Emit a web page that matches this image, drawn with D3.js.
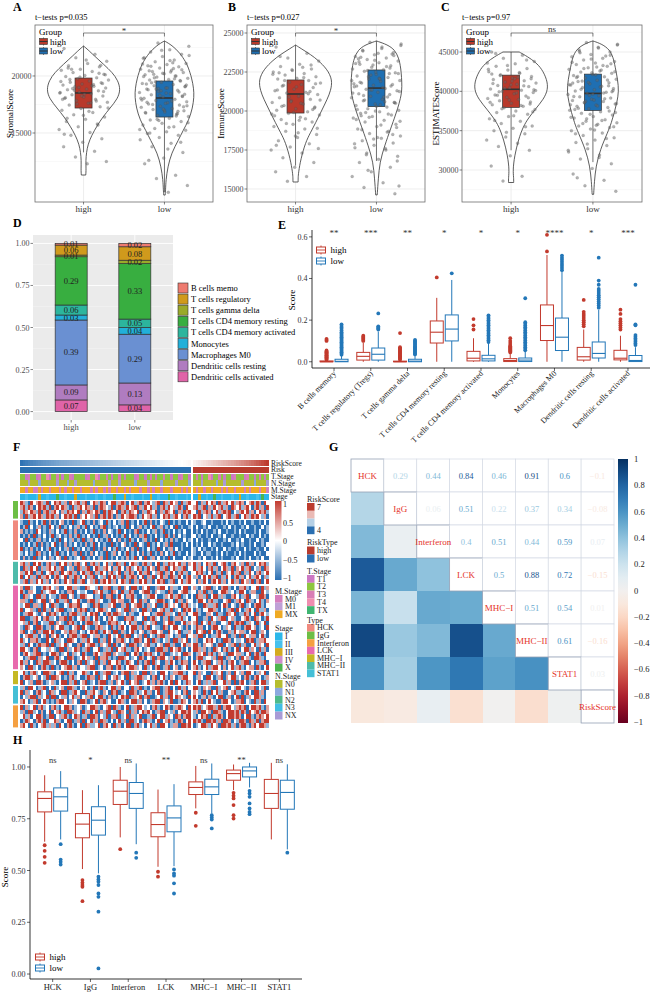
<!doctype html>
<html lang="en">
<head>
<meta charset="utf-8">
<title>Immune infiltration panels</title>
<script src="https://cdn.jsdelivr.net/npm/d3@7/dist/d3.min.js"></script>
<style>
  body { margin: 0; background: #fff; }
  svg { display: block; font-family: "Liberation Serif", "DejaVu Serif", serif; }
</style>
</head>
<body>
<div id="viz"></div>
<script>
// ---------- DATA ----------
var groups = ["high", "low"];

// A-C: ESTIMATE scores (jittered samples)
var stromalHigh = [22400, 21900, 21600, 21300, 21100, 20900, 20800, 20600, 20500, 20400,
  20300, 20150, 20050, 19950, 19850, 19750, 19650, 19550, 19450, 19400,
  19300, 19200, 19100, 19050, 18950, 18850, 18800, 18700, 18600, 18550,
  18450, 18350, 18250, 18150, 18050, 17950, 17850, 17700, 17600, 17450,
  17300, 17150, 17000, 16800, 16600, 16400, 16200, 16000, 15800, 15550,
  15300, 15050, 14800, 14500, 14200, 13800, 13400, 12900, 12500, 12300,
  20700, 20250, 19900, 19520, 19150, 18900, 18650, 18400, 18100, 17800,
  17550, 17200, 16900, 19700, 20950, 18250, 17950, 19250, 18750, 20100,
  21400, 16300, 15700, 19000, 18500, 17650, 20600, 19350, 16550, 14900];
var stromalLow = [22900, 22600, 22300, 22100, 21900, 21700, 21550, 21400, 21250, 21100,
  21000, 20900, 20800, 20700, 20600, 20500, 20400, 20300, 20200, 20100,
  20000, 19900, 19800, 19700, 19650, 19550, 19450, 19350, 19250, 19150,
  19050, 18950, 18850, 18750, 18650, 18550, 18450, 18350, 18250, 18150,
  18050, 17950, 17850, 17750, 17650, 17550, 17450, 17350, 17250, 17150,
  17050, 16950, 16850, 16750, 16650, 16550, 16450, 16300, 16150, 16000,
  15850, 15700, 15550, 15400, 15250, 15100, 14950, 14800, 14600, 14400,
  14100, 13800, 13300, 12800, 12300, 11300, 11000, 10400, 9800, 20450,
  19600, 18700, 17900, 21150, 20150, 18400, 17600, 19300, 16700, 18900,
  21800, 21350, 20850, 20550, 20250, 19950, 19750, 19500, 19200, 18950,
  18800, 18600, 18300, 18050, 17800, 17500, 17300, 17000, 16800, 16500,
  16200, 15900, 15500, 15000, 14200, 22250, 21050, 20650, 19850, 19100,
  18500, 17700, 16900, 16100, 15300, 20350, 19400, 18200, 17100, 21600,
  20000, 18850, 17400, 13600, 12600];
var immuneHigh = [24100, 23700, 23400, 23200, 23000, 22850, 22700, 22600, 22500, 22400,
  22300, 22200, 22100, 22050, 21950, 21850, 21800, 21700, 21600, 21500,
  21400, 21300, 21200, 21150, 21050, 20950, 20850, 20750, 20650, 20550,
  20450, 20350, 20250, 20150, 20050, 19950, 19850, 19750, 19600, 19450,
  19300, 19150, 19000, 18850, 18700, 18500, 18300, 18100, 17900, 17700,
  17500, 17300, 17000, 16700, 16400, 16100, 15800, 15500, 17600, 19400,
  23500, 22950, 22650, 22350, 22150, 21950, 21750, 21550, 21350, 21100,
  20900, 20700, 20500, 20300, 20100, 19900, 19700, 19500, 19200, 18900,
  18600, 22450, 21250, 20600, 19800, 22800, 21650, 20200, 18400, 17800];
var immuneLow = [24400, 24200, 24000, 23900, 23750, 23600, 23500, 23400, 23300, 23200,
  23100, 23000, 22900, 22800, 22700, 22650, 22550, 22450, 22350, 22250,
  22150, 22050, 21950, 21900, 21800, 21700, 21650, 21550, 21450, 21400,
  21300, 21200, 21100, 21050, 20950, 20850, 20750, 20650, 20550, 20450,
  20350, 20250, 20150, 20050, 19950, 19850, 19750, 19650, 19550, 19400,
  19300, 19150, 19000, 18850, 18700, 18550, 18400, 18250, 18100, 17950,
  17800, 17650, 17500, 17300, 17100, 16900, 16700, 16400, 16100, 15800,
  15400, 15100, 14700, 22500, 21600, 20900, 22200, 21250, 20400, 19700,
  23650, 22950, 21750, 20600, 19900, 18950, 18300, 23350, 22400, 21350,
  24300, 24100, 23850, 23550, 23250, 23050, 22850, 22600, 22400, 22100,
  21850, 21600, 21350, 21150, 20900, 20700, 20500, 20300, 20100, 19800,
  19600, 19350, 19100, 18800, 18500, 18200, 17900, 17600, 17200, 16800,
  23700, 23150, 22750, 22300, 21950, 21500, 21000, 20550, 20000, 19450,
  18650, 16200, 15200, 22050, 23450];
var estimateHigh = [45000, 44600, 44200, 43800, 43500, 43200, 42900, 42700, 42500, 42300,
  42100, 41900, 41700, 41500, 41350, 41200, 41050, 40900, 40750, 40600,
  40450, 40300, 40150, 40000, 39850, 39700, 39550, 39400, 39250, 39100,
  38950, 38800, 38650, 38500, 38300, 38100, 37900, 37700, 37500, 37300,
  37100, 36800, 36500, 36200, 35900, 35600, 35300, 35000, 34600, 34200,
  33800, 33400, 33000, 32500, 31800, 30500, 29200, 28600, 40200, 41600,
  44800, 44000, 43300, 42800, 42400, 42000, 41600, 41300, 41000, 40700,
  40400, 40100, 39800, 39500, 39200, 38900, 38600, 38200, 37800, 37400,
  36900, 36300, 35500, 34800, 43600, 41800, 39950, 38400, 40850, 42200];
var estimateLow = [46200, 45900, 45600, 45300, 45000, 44700, 44400, 44200, 44000, 43800,
  43600, 43400, 43200, 43000, 42800, 42600, 42450, 42300, 42150, 42000,
  41850, 41700, 41550, 41400, 41250, 41100, 40950, 40800, 40650, 40500,
  40350, 40200, 40050, 39900, 39750, 39600, 39450, 39300, 39150, 39000,
  38850, 38700, 38550, 38400, 38250, 38100, 37950, 37800, 37600, 37400,
  37200, 37000, 36800, 36600, 36400, 36200, 36000, 35800, 35600, 35400,
  35200, 35000, 34700, 34400, 34100, 33800, 33500, 33100, 32700, 32300,
  31900, 31400, 30800, 30200, 29500, 28700, 28000, 27300, 43100, 41900,
  40700, 39500, 38300, 42700, 41300, 40100, 38900, 37700, 44500, 36500,
  46000, 45500, 45100, 44600, 44100, 43700, 43300, 42900, 42500, 42100,
  41750, 41450, 41150, 40850, 40550, 40250, 39950, 39650, 39350, 39050,
  38750, 38450, 38150, 37850, 37500, 37100, 36700, 36300, 35900, 35500,
  35100, 34600, 34000, 33300, 32500, 31600, 44900, 43500, 42350, 41050,
  39800, 38600, 37300, 35700, 29000];

// box stats: [lower whisker, q1, median, q3, upper whisker]
var stromalHighBox = [13300, 17190, 18510, 19820, 22630];
var stromalLowBox = [9800, 16400, 18070, 19560, 23070];
var immuneHighBox = [16500, 19870, 21090, 21990, 24230];
var immuneLowBox = [16800, 20280, 21470, 22630, 24490];
var estimateHighBox = [32500, 37960, 40260, 42060, 45000];
var estimateLowBox = [31000, 37570, 39740, 42190, 46410];

// violin outlines: [score, relative density]
var stromalHighViolin = [[22630,0],[22300,0.12],[21800,0.28],[21000,0.55],[20300,0.78],[19600,0.93],[18800,1],[18000,0.92],[17200,0.72],[16400,0.52],[15600,0.36],[14800,0.22],[14000,0.12],[13300,0.08],[12600,0.06],[11800,0.07],[11316,0.06]];
var stromalLowViolin = [[23070,0],[22700,0.2],[22020,0.42],[21200,0.58],[20790,0.64],[19800,0.74],[18900,0.79],[18160,0.8],[17200,0.76],[16140,0.66],[15200,0.5],[14390,0.38],[13250,0.19],[12020,0.09],[10880,0.04],[10000,0.03],[9560,0.02]];
var immuneHighViolin = [[24230,0],[24000,0.15],[23600,0.42],[23270,0.6],[22700,0.85],[21990,1],[21300,0.95],[20770,0.86],[20000,0.7],[19230,0.54],[18600,0.4],[17990,0.27],[16910,0.14],[16060,0.08],[15700,0.07],[15450,0.07]];
var immuneLowViolin = [[24490,0],[24250,0.3],[23910,0.5],[23400,0.6],[22820,0.66],[21470,0.7],[20800,0.65],[20130,0.57],[19500,0.48],[18850,0.38],[17760,0.22],[16730,0.09],[15640,0.05],[14620,0.02]];
var estimateHighViolin = [[45000,0.22],[44400,0.45],[43700,0.66],[42860,0.83],[41500,0.97],[40250,1],[39000,0.88],[37710,0.65],[36600,0.47],[35550,0.33],[33890,0.2],[31730,0.09],[30000,0.05],[29000,0.07],[28410,0.07]];
var estimateLowViolin = [[46410,0],[46000,0.25],[45300,0.45],[44300,0.55],[43150,0.6],[41500,0.67],[40000,0.7],[38600,0.65],[37320,0.58],[36000,0.5],[34780,0.4],[32620,0.2],[30460,0.08],[28500,0.04],[26900,0.02]];

var pLabels = ["t\u2212tests p=0.035", "t\u2212tests p=0.027", "t\u2212tests p=0.97"];
var scoreSig = ["*", "*", "ns"];

// D: mean fractions per risk group (top to bottom in stack)
var dCells = ["B cells memo", "T cells regulatory", "T cells gamma delta", "T cells CD4 memory resting",
  "T cells CD4 memory activated", "Monocytes", "Macrophages M0", "Dendritic cells resting", "Dendritic cells activated"];
var dHigh = [0.01, 0.06, 0.01, 0.29, 0.06, 0.03, 0.39, 0.09, 0.07];
var dLow = [0.02, 0.08, 0.02, 0.33, 0.05, 0.04, 0.29, 0.13, 0.04];

// E: immune cell scores
var cellTypes = ["B cells memory", "T cells regulatory (Tregs)", "T cells gamma delta", "T cells CD4 memory resting",
  "T cells CD4 memory activated", "Monocytes", "Macrophages M0", "Dendritic cells resting", "Dendritic cells activated"];
var cellSig = ["**", "***", "**", "*", "*", "*", "****", "*", "***"];
var cellHighBox = [
  [0, 0, 0, 0.004, 0.008],
  [0, 0.008, 0.026, 0.045, 0.092],
  [0, 0, 0, 0.003, 0.007],
  [0, 0.09, 0.142, 0.196, 0.307],
  [0, 0.004, 0.017, 0.05, 0.113],
  [0, 0.001, 0.006, 0.015, 0.037],
  [0, 0.102, 0.174, 0.273, 0.513],
  [0, 0.008, 0.024, 0.069, 0.155],
  [0, 0.009, 0.017, 0.055, 0.125]
];
var cellLowBox = [
  [0, 0, 0.002, 0.012, 0.03],
  [0, 0.008, 0.036, 0.066, 0.145],
  [0, 0, 0.003, 0.012, 0.03],
  [0, 0.1, 0.157, 0.225, 0.393],
  [0, 0.004, 0.014, 0.031, 0.09],
  [0, 0.001, 0.008, 0.018, 0.05],
  [0, 0.054, 0.118, 0.21, 0.433],
  [0, 0.018, 0.04, 0.095, 0.25],
  [0, 0.001, 0.006, 0.03, 0.07]
];
var cellHighOut = [
  [0.01, 0.013, 0.016, 0.019, 0.022, 0.025, 0.028, 0.031, 0.034, 0.037, 0.04, 0.043, 0.046, 0.05, 0.054, 0.1, 0.105, 0.11],
  [0.1, 0.105, 0.11, 0.115, 0.12, 0.125],
  [0.01, 0.014, 0.018, 0.022, 0.026, 0.03, 0.034, 0.038, 0.042, 0.046, 0.05, 0.055, 0.06, 0.065, 0.07, 0.138],
  [0.405],
  [0.155, 0.175, 0.205],
  [0.045, 0.05, 0.055, 0.06, 0.065, 0.07, 0.075, 0.08, 0.09, 0.1, 0.113],
  [0.53, 0.61],
  [0.17, 0.18, 0.19, 0.2, 0.21, 0.22, 0.23, 0.24, 0.297],
  [0.155, 0.165, 0.175, 0.185, 0.195, 0.205, 0.23, 0.25]
];
var cellLowOut = [
  [0.034, 0.04, 0.046, 0.052, 0.058, 0.064, 0.07, 0.076, 0.082, 0.088, 0.094, 0.1, 0.106, 0.112, 0.118, 0.124, 0.13, 0.136, 0.142, 0.15, 0.158, 0.165, 0.172, 0.18],
  [0.155, 0.16, 0.165, 0.17, 0.232],
  [0.035, 0.04, 0.045, 0.05, 0.055, 0.06, 0.065, 0.07, 0.075, 0.08, 0.085, 0.09, 0.095, 0.1, 0.105],
  [0.425],
  [0.095, 0.103, 0.111, 0.119, 0.127, 0.135, 0.143, 0.151, 0.159, 0.167, 0.175, 0.183, 0.191, 0.199, 0.207, 0.215, 0.223],
  [0.055, 0.062, 0.07, 0.078, 0.086, 0.094, 0.102, 0.11, 0.118, 0.126, 0.134, 0.142, 0.15, 0.158, 0.166, 0.174, 0.182, 0.19, 0.305],
  [0.44, 0.45, 0.46, 0.47, 0.48, 0.49, 0.5, 0.51],
  [0.26, 0.27, 0.28, 0.29, 0.3, 0.31, 0.32, 0.33, 0.34, 0.35, 0.37, 0.39, 0.5],
  [0.08, 0.088, 0.096, 0.104, 0.112, 0.12, 0.128, 0.175, 0.18, 0.37]
];

// F: heatmap (levels 0..4 = -1..1), one string per gene, grouped by type
var heatTypes = ["IgG", "HCK", "MHC\u2212II", "LCK", "MHC\u2212I", "STAT1", "Interferon"];
var heatIgG = [
  "431042343140 243413042341 340243143024 413430241340 342134043142 304134240314 243041342413 430234143042",
  "341430243414 034243104134 243140343214 034314234031 424130341423 143042341340 314234130432 413420341304",
  "143243140341 342031434240 314324304143 240341432403 143240314324 031434204134 302413434021 342413024341",
  "304134243143 413024341403 242314034143 031423443014 234130243413 420341434023 141340234134 024314342130"];
var heatHCK = [
  "100410201403 010230104012 401030120410 201304010201 403010210401 010020100120 010001020100 102001001020",
  "014020130104 201401020130 140201034010 120104020130 102401301020 401001020010 200100102010 010200100201",
  "301010420103 102014010301 020140103021 014020103401 020130140102 010200010201 001020010010 201000102001",
  "010304010201 401201030140 102010401302 010140201031 401020104103 020100201001 020010200100 100201002010",
  "204010130102 010402013010 401302010140 203010410201 301040201030 100201020100 100200102001 020010020100",
  "010201403010 240103010201 030140201004 010230104021 040102013040 001020010200 201001000102 010010200102",
  "401030102014 010201304010 201040103020 140102030401 020104020130 201000102010 010200201001 002010010020",
  "102010430102 014010201304 010302010401 302014010203 014010302014 010020100201 100102010010 201000201002",
  "030104010203 102304010120 401020130401 020103014020 401302010402 000201001020 010201000102 001020010200"];
var heatMHCII = [
  "341304241034 130424130341 240341302413 043140243103 413024031434 241303413024 314023410342 130413024341",
  "043142403134 241340213043 134024313420 314203412430 142304134024 313402413420 341302431403 241340213043",
  "314240314023 413042341302 413403142034 124031430241 340213403142 034130243410 240314032413 403142034124",
  "402413041342 034124031430 241340213042 413041343024 031402413043 142034130242 413403142034 130241342031",
  "134031424130 243014230413 402314034241 302431403142 413024340134 024134203142 034241302413 042314034024"];
var heatLCK = [
  "304412001434 213002441310 043221403340 114032044103 240013442031 102440310234 401203441020 334102240413",
  "410332004123 442010334021 120043241104 320411430023 441032110430 023441203140 130024431201 442013300421",
  "043120441302 110344023014 432201140334 014203341002 134420013241 340120043314 024413100342 013402214430",
  "331040124403 204113402241 003441320014 423300142041 302214430120 413032014420 341100234013 420431024103",
  "124403310420 431002143340 221043401132 400314023441 031240034123 204341120043 113402430210 340120344102",
  "402231040413 023440112034 340102443120 032144031204 413002341140 120434031022 443102013404 201342041130",
  "013442103204 341201034413 102434020341 443120310024 220134403312 041302441003 320411043240 114302403421",
  "440013420341 120334041023 413024102034 210043341220 403412031401 334120240013 042134402310 023410432014",
  "231403402114 403210434102 034413200143 341202413004 121340032443 002413340421 413002214034 340132041240",
  "104320443013 032441102340 421003431204 103420244130 340211043024 421030143302 034420132041 103442301204",
  "340214031442 410023143302 102434014230 440310241023 013442300421 240113042340 420341003142 331024401320",
  "023441302140 324102034413 440213301042 124034402130 402103441320 130042314402 011342240130 404213302410",
  "412033410042 043120443201 314200413042 033412014430 240431021304 413240130024 342010443021 120434013342",
  "130420143340 401324120034 023441032140 410230443012 341102304413 002413441032 230144021340 413002413204",
  "442103402213 210440312430 134022401314 042341103420 120034413042 341020443130 104320341024 024413204130",
  "034213440102 443012403120 410034213440 321104024301 434120340012 120443013240 341032104423 310240341042",
  "201344031240 034120443012 423104033410 104432012043 021403442130 430120034412 213044031203 042310443102",
  "413020431443 120344102034 041230413042 243014320410 340412003142 014330420134 402134103420 134402013340",
  "320441203410 401023441302 213440120334 034102443120 412034013402 301240341024 134420302413 410233041024"];
var heatMHCI = [
  "241034120443 102340413022 431024013440 120344031204 403120442013 344102403120 041324013042 130442013240",
  "034412302140 443201034120 014330412402 341204013443 120340241032 013442013204 420134032441 203410342013",
  "402130443012 310244031402 340120344013 032410423401 241303410240 420143024013 134022413040 342013402441"];
var heatSTAT1 = [
  "130442013402 041230443102 320140341024 413022041340 102344013402 041302441032 300412340214 421033402140",
  "403120341204 312044013420 041342103204 340120443012 413024013442 120340321041 042413002341 103420441302",
  "021344031240 440213024130 213402441030 102434013240 340012413042 432104420130 310244013024 040132443102",
  "342013402410 103442013204 430124034120 024310244130 201344032140 014320341402 421003442013 340210413042"];
var heatInterferon = [
  "403124034120 341024430123 012443102340 431024013442 120341024301 343204434123 443140344213 434024434103",
  "130441203024 023410443120 413024031442 104320413024 342013440213 024434130442 304431024434 143042341443",
  "241302443014 402134102430 130443021403 340124031240 013402441320 430344102434 041343024434 302441034324",
  "014320341402 243102440130 402413043102 024130441203 431024023410 143024434104 434130443021 443043140344",
  "342041023413 130420341024 043112403420 413024403412 024130442013 304434012443 142304434130 344103424431"];

// F: column annotations (66 low-risk then 30 high-risk samples)
var lowCount = 66;
var riskScores = [4.00, 4.06, 4.11, 4.16, 4.20, 4.24, 4.28, 4.32, 4.35, 4.38, 4.41, 4.44, 4.47, 4.50, 4.53, 4.56,
  4.58, 4.60, 4.62, 4.64, 4.66, 4.68, 4.70, 4.72, 4.74, 4.76, 4.78, 4.80, 4.82, 4.84, 4.86, 4.88, 4.90, 4.92,
  4.94, 4.96, 4.98, 5.00, 5.02, 5.04, 5.06, 5.08, 5.10, 5.12, 5.14, 5.16, 5.18, 5.20, 5.22, 5.24, 5.26, 5.28,
  5.30, 5.32, 5.34, 5.36, 5.38, 5.40, 5.42, 5.44, 5.46, 5.48, 5.50, 5.52, 5.54, 5.56,
  5.60, 5.64, 5.68, 5.72, 5.76, 5.80, 5.84, 5.88, 5.92, 5.96, 6.00, 6.04, 6.08, 6.12, 6.16, 6.20, 6.25, 6.30,
  6.35, 6.40, 6.45, 6.50, 6.56, 6.62, 6.68, 6.74, 6.80, 6.87, 6.94, 7.00];
var tStage = "221322132241 223212231222 213224122321 223212221322 123212232212 213221232122 412232122132 221322123212";
var nStage = "000X00010000 00X000100X00 0000100000X0 00X000001000 0X0000100000 X00001000X00 000100X00000 0X000010000X";
var mStage = "XX0XX00X0XX0 XXX0X0XX0XX0 XXX0X0XX0X0X X0XX0X0XXX0X X0X0XX0XXX0X XX0X0XX0XX0X X0XXX0X0XX0X XX0X0XXX0XX0";
var stageCodes = "112111231121 11X112111311 121112112111 X11131121112 113112111X11 211121113112 11X112111211 311211121X11";

var tNames = ["T1", "T2", "T3", "T4", "TX"], tKeys = "1234X";
var nNames = ["N0", "N1", "N2", "N3", "NX"], nKeys = "0123X";
var mNames = ["M0", "M1", "MX"], mKeys = "01X";
var sNames = ["I", "II", "III", "IV", "X"], sKeys = "1234X";
var typeNames = ["HCK", "IgG", "Interferon", "LCK", "MHC\u2212I", "MHC\u2212II", "STAT1"];

// G: correlation matrix
var corrNames = ["HCK", "IgG", "Interferon", "LCK", "MHC\u2212I", "MHC\u2212II", "STAT1", "RiskScore"];
var corr = [
  [1, 0.29, 0.44, 0.84, 0.46, 0.91, 0.6, -0.1],
  [0.29, 1, 0.06, 0.51, 0.22, 0.37, 0.34, -0.08],
  [0.44, 0.06, 1, 0.4, 0.51, 0.44, 0.59, 0.07],
  [0.84, 0.51, 0.4, 1, 0.5, 0.88, 0.72, -0.15],
  [0.46, 0.22, 0.51, 0.5, 1, 0.51, 0.54, 0.01],
  [0.91, 0.37, 0.44, 0.88, 0.51, 1, 0.61, -0.16],
  [0.6, 0.34, 0.59, 0.72, 0.54, 0.61, 1, 0.03],
  [-0.1, -0.08, 0.07, -0.15, 0.01, -0.16, 0.03, 1]
];

// H: immune function scores
var immuneSets = ["HCK", "IgG", "Interferon", "LCK", "MHC\u2212I", "MHC\u2212II", "STAT1"];
var setSig = ["ns", "*", "ns", "**", "ns", "**", "ns"];
var setHighBox = [
  [0.639, 0.783, 0.848, 0.880, 0.960],
  [0.507, 0.658, 0.724, 0.775, 0.888],
  [0.660, 0.819, 0.883, 0.936, 1.000],
  [0.518, 0.663, 0.722, 0.779, 0.891],
  [0.800, 0.867, 0.901, 0.928, 1.005],
  [0.888, 0.936, 0.968, 0.985, 1.012],
  [0.650, 0.800, 0.872, 0.940, 1.020]
];
var setLowBox = [
  [0.650, 0.787, 0.856, 0.899, 0.980],
  [0.486, 0.671, 0.743, 0.808, 0.912],
  [0.627, 0.800, 0.872, 0.925, 1.017],
  [0.521, 0.687, 0.754, 0.812, 0.917],
  [0.775, 0.867, 0.904, 0.941, 1.017],
  [0.901, 0.952, 0.981, 1.000, 1.020],
  [0.602, 0.796, 0.877, 0.936, 1.013]
];
var setHighOut = [
  [0.622, 0.595, 0.566, 0.537],
  [0.454, 0.441, 0.430, 0.421, 0.352],
  [0.603],
  [0.494, 0.470],
  [0.779, 0.716],
  [0.875, 0.861, 0.848, 0.816, 0.767, 0.751],
  []
];
var setLowOut = [
  [0.627, 0.553, 0.542, 0.529],
  [0.470, 0.457, 0.446, 0.430, 0.389, 0.373, 0.301, 0.027],
  [0.586, 0.561],
  [0.505, 0.486, 0.475, 0.438, 0.389],
  [0.767, 0.756, 0.746, 0.703],
  [0.885, 0.872, 0.856, 0.824, 0.800, 0.783, 0.772],
  [0.586]
];

// ---------- COLOURS ----------
var fillHigh = "#B8392B", fillLow = "#1F6FB2";
var lineHigh = "#C23A2D", lineLow = "#2377B8";
var dColors = ["#EE7B70", "#D09A1C", "#9AAA2A", "#38AE40", "#2CB59D", "#22B0D9", "#6A90D2", "#B07CC0", "#E064A8"];
var tColors = ["#CC79C3", "#8DC63F", "#D97DB5", "#F08DB0", "#3FB571"];
var nColors = ["#B5BD2E", "#8CA8DF", "#4DB98A", "#42BEE3", "#A99BD6"];
var mColors = ["#D57EBE", "#BFA0D6", "#EFAA22"];
var sColors = ["#2BB7E9", "#46C1EE", "#D4AA1E", "#CE8DCB", "#4DB54E"];
var typeColors = ["#F08A7E", "#6DBE45", "#F5A041", "#E86AAE", "#C5B824", "#4EBBAA", "#45BFD6"];
var heatColor = d3.scaleLinear().domain([-1, 0, 1]).range(["#2B6FB2", "#FFFFFF", "#C23B30"]);
var riskColor = d3.scaleLinear().domain([4, 5.5, 7]).range(["#2F72B4", "#FFFFFF", "#BD3A2E"]);
var corrColor = function(v) { return d3.interpolateRdBu((v + 1) / 2); };

// ---------- DRAWING AREA ----------
var W = 652, H = 992;
var svg = d3.select("#viz").append("svg").attr("width", W).attr("height", H);
svg.append("rect").attr("width", W).attr("height", H).attr("fill", "#fff");
var defs = svg.append("defs");

function txt(x, y, t, size, opts) {
  opts = opts || {};
  return svg.append("text").attr("x", x).attr("y", y).text(t)
    .attr("font-size", size).attr("fill", opts.fill || "#000")
    .attr("text-anchor", opts.anchor || "start")
    .attr("font-weight", opts.weight || "normal");
}
function panelLetter(x, y, t) { txt(x, y, t, 12, {weight: "bold"}); }

function jitter(i, seed) { return ((i * 0.6180339887 + seed) % 1) - 0.5; }

// ---------- A-C VIOLIN PANELS ----------
function violinPanel(p) {
  var g = svg.append("g");
  var top = 25, bottom = 202;
  var x = d3.scalePoint().domain(groups).range([p.left, p.right]).padding(0.6);
  var y = d3.scaleLinear().domain(p.domain).range([bottom, top]);

  g.selectAll(".mn").data(p.minor).enter().append("line")
    .attr("x1", p.left).attr("x2", p.right).attr("y1", y).attr("y2", y)
    .attr("stroke", "#F2F2F2").attr("stroke-width", 0.5);
  g.selectAll(".mj").data(p.ticks).enter().append("line")
    .attr("x1", p.left).attr("x2", p.right).attr("y1", y).attr("y2", y)
    .attr("stroke", "#E6E6E6").attr("stroke-width", 0.7);
  g.selectAll(".vg").data(groups).enter().append("line")
    .attr("x1", x).attr("x2", x).attr("y1", top).attr("y2", bottom)
    .attr("stroke", "#E6E6E6").attr("stroke-width", 0.7);

  var area = d3.area().curve(d3.curveBasis).y(function(d) { return y(d[0]); });
  groups.forEach(function(gr, i) {
    var cx = x(gr);
    g.append("path").datum(p.violins[i])
      .attr("d", area.x0(function(d) { return cx - d[1] * 37; }).x1(function(d) { return cx + d[1] * 37; }))
      .attr("fill", "#fff").attr("stroke", "#333").attr("stroke-width", 0.8);
  });
  groups.forEach(function(gr, i) {
    var cx = x(gr), s = p.boxes[i];
    g.append("line").attr("x1", cx).attr("x2", cx).attr("y1", y(s[0])).attr("y2", y(s[4]))
      .attr("stroke", "#333").attr("stroke-width", 0.7);
    g.append("rect").attr("x", cx - 8.5).attr("width", 17)
      .attr("y", y(s[3])).attr("height", y(s[1]) - y(s[3]))
      .attr("fill", i ? fillLow : fillHigh).attr("stroke", "#333").attr("stroke-width", 0.7);
    g.append("line").attr("x1", cx - 8.5).attr("x2", cx + 8.5).attr("y1", y(s[2])).attr("y2", y(s[2]))
      .attr("stroke", "#333").attr("stroke-width", 1.6);
  });
  groups.forEach(function(gr, i) {
    var cx = x(gr);
    g.selectAll(".pt" + i).data(p.points[i]).enter().append("circle")
      .attr("cx", function(d, j) { return cx + jitter(j, i ? 0.37 : 0.11) * 50; })
      .attr("cy", y).attr("r", 1.5)
      .attr("fill", "#666").attr("fill-opacity", 0.5)
      .attr("stroke", "#333").attr("stroke-opacity", 0.35).attr("stroke-width", 0.3);
  });

  g.append("rect").attr("x", p.left).attr("y", top).attr("width", p.right - p.left).attr("height", bottom - top)
    .attr("fill", "none").attr("stroke", "#6E6E6E").attr("stroke-width", 0.8);

  p.ticks.forEach(function(t) {
    if (y(t) < top || y(t) > bottom) return;
    g.append("line").attr("x1", p.left - 2.5).attr("x2", p.left).attr("y1", y(t)).attr("y2", y(t)).attr("stroke", "#333").attr("stroke-width", 0.6);
    txt(p.left - 3.5, y(t) + 3, t, 8, {anchor: "end", fill: "#4D4D4D"});
  });
  groups.forEach(function(gr) {
    g.append("line").attr("x1", x(gr)).attr("x2", x(gr)).attr("y1", bottom).attr("y2", bottom + 2.5).attr("stroke", "#333").attr("stroke-width", 0.6);
    txt(x(gr), 212, gr, 9, {anchor: "middle", fill: "#333"});
  });
  svg.append("text").attr("transform", "translate(" + p.titleX + "," + ((top + bottom) / 2) + ") rotate(-90)")
    .attr("text-anchor", "middle").attr("font-size", 9).text(p.title);
  txt(p.left, 20, p.pLabel, 8.5);

  // significance bracket
  var xa = x("high"), xb = x("low");
  g.append("path").attr("d", "M" + xa + ",36.5V33H" + xb + "V36.5")
    .attr("fill", "none").attr("stroke", "#333").attr("stroke-width", 0.6);
  txt((xa + xb) / 2, p.sig === "ns" ? 31.5 : 34, p.sig, 9, {anchor: "middle", fill: "#333"});

  // legend
  var lx = p.left + 4;
  txt(lx, 35, "Group", 9);
  [fillHigh, fillLow].forEach(function(c, i) {
    var ky = 38.5 + i * 9.5;
    g.append("line").attr("x1", lx + 4.5).attr("x2", lx + 4.5).attr("y1", ky - 1).attr("y2", ky + 7).attr("stroke", "#333").attr("stroke-width", 0.6);
    g.append("rect").attr("x", lx + 0.5).attr("y", ky).attr("width", 8).attr("height", 6)
      .attr("fill", c).attr("stroke", "#333").attr("stroke-width", 0.6);
    g.append("line").attr("x1", lx + 0.5).attr("x2", lx + 8.5).attr("y1", ky + 3).attr("y2", ky + 3).attr("stroke", "#333").attr("stroke-width", 1);
    txt(lx + 11, ky + 6, groups[i], 9);
  });
}

violinPanel({left: 35, right: 213, domain: [8950, 24470], ticks: [15000, 20000], minor: [12500, 17500, 22500],
  violins: [stromalHighViolin, stromalLowViolin], boxes: [stromalHighBox, stromalLowBox], points: [stromalHigh, stromalLow],
  title: "StromalScore", titleX: 13, pLabel: pLabels[0], sig: scoreSig[0]});
violinPanel({left: 247, right: 425, domain: [14167, 25513], ticks: [15000, 17500, 20000, 22500, 25000], minor: [16250, 18750, 21250, 23750],
  violins: [immuneHighViolin, immuneLowViolin], boxes: [immuneHighBox, immuneLowBox], points: [immuneHigh, immuneLow],
  title: "ImmuneScore", titleX: 224, pLabel: pLabels[1], sig: scoreSig[1]});
violinPanel({left: 462, right: 642, domain: [25930, 48435], ticks: [30000, 35000, 40000, 45000], minor: [27500, 32500, 37500, 42500, 47500],
  violins: [estimateHighViolin, estimateLowViolin], boxes: [estimateHighBox, estimateLowBox], points: [estimateHigh, estimateLow],
  title: "ESTIMATEScore", titleX: 439, pLabel: pLabels[2], sig: scoreSig[2]});

panelLetter(13, 11, "A");
panelLetter(228, 11, "B");
panelLetter(441, 11, "C");

// ---------- D: STACKED FRACTIONS ----------
(function() {
  var g = svg.append("g");
  var x = d3.scalePoint().domain(groups).range([33, 173]).padding(0.6);
  var y = d3.scaleLinear().domain([-0.05, 1.05]).range([420, 235]);
  g.append("rect").attr("x", 33).attr("y", 235).attr("width", 140).attr("height", 185).attr("fill", "#EBEBEB");
  [0.125, 0.375, 0.625, 0.875].forEach(function(v) {
    g.append("line").attr("x1", 33).attr("x2", 173).attr("y1", y(v)).attr("y2", y(v)).attr("stroke", "#F5F5F5").attr("stroke-width", 0.5);
  });
  [0, 0.25, 0.5, 0.75, 1].forEach(function(v) {
    g.append("line").attr("x1", 33).attr("x2", 173).attr("y1", y(v)).attr("y2", y(v)).attr("stroke", "#fff").attr("stroke-width", 0.9);
    g.append("line").attr("x1", 30.5).attr("x2", 33).attr("y1", y(v)).attr("y2", y(v)).attr("stroke", "#333").attr("stroke-width", 0.6);
    txt(29.5, y(v) + 3, d3.format(".2f")(v), 8, {anchor: "end", fill: "#4D4D4D"});
  });
  groups.forEach(function(gr) {
    g.append("line").attr("x1", x(gr)).attr("x2", x(gr)).attr("y1", 235).attr("y2", 420).attr("stroke", "#fff").attr("stroke-width", 0.9);
    g.append("line").attr("x1", x(gr)).attr("x2", x(gr)).attr("y1", 420).attr("y2", 422.5).attr("stroke", "#333").attr("stroke-width", 0.6);
    txt(x(gr), 430, gr, 8.5, {anchor: "middle", fill: "#4D4D4D"});
  });
  [dHigh, dLow].forEach(function(vals, gi) {
    var total = d3.sum(vals), cum = 0, cx = x(groups[gi]);
    for (var k = vals.length - 1; k >= 0; k--) {
      var a = cum / total, b = (cum + vals[k]) / total;
      g.append("rect").attr("x", cx - 16).attr("width", 32).attr("y", y(b)).attr("height", y(a) - y(b))
        .attr("fill", dColors[k]).attr("stroke", "#333").attr("stroke-width", 0.7);
      txt(cx, (y(a) + y(b)) / 2 + 3, d3.format(".2f")(vals[k]), 8.5, {anchor: "middle", fill: "#222"});
      cum += vals[k];
    }
  });
  dCells.forEach(function(c, i) {
    var ky = 283 + i * 11.1;
    g.append("rect").attr("x", 178).attr("y", ky).attr("width", 10).attr("height", 10)
      .attr("fill", dColors[i]).attr("stroke", "#333").attr("stroke-width", 0.6);
    txt(191, ky + 8, c, 8.5);
  });
  panelLetter(13, 227, "D");
})();

// ---------- generic coloured box ----------
function drawBox(g, cx, w, s, y, col, outs) {
  g.append("line").attr("x1", cx).attr("x2", cx).attr("y1", y(s[0])).attr("y2", y(s[1])).attr("stroke", col).attr("stroke-width", 1);
  g.append("line").attr("x1", cx).attr("x2", cx).attr("y1", y(s[3])).attr("y2", y(s[4])).attr("stroke", col).attr("stroke-width", 1);
  g.append("rect").attr("x", cx - w / 2).attr("width", w).attr("y", y(s[3])).attr("height", Math.max(0.01, y(s[1]) - y(s[3])))
    .attr("fill", "#fff").attr("stroke", col).attr("stroke-width", 1);
  g.append("line").attr("x1", cx - w / 2).attr("x2", cx + w / 2).attr("y1", y(s[2])).attr("y2", y(s[2])).attr("stroke", col).attr("stroke-width", 1.1);
  g.selectAll(null).data(outs).enter().append("circle")
    .attr("cx", cx).attr("cy", y).attr("r", 1.9).attr("fill", col);
}
function boxLegend(g, x, y) {
  [lineHigh, lineLow].forEach(function(c, i) {
    var ky = y + i * 11;
    g.append("line").attr("x1", x + 4.5).attr("x2", x + 4.5).attr("y1", ky - 1.5).attr("y2", ky + 7.5).attr("stroke", c).attr("stroke-width", 0.9);
    g.append("rect").attr("x", x).attr("y", ky).attr("width", 9).attr("height", 6).attr("fill", "#fff").attr("stroke", c).attr("stroke-width", 1);
    g.append("line").attr("x1", x).attr("x2", x + 9).attr("y1", ky + 3).attr("y2", ky + 3).attr("stroke", c).attr("stroke-width", 0.9);
    txt(x + 14, ky + 6, groups[i], 9);
  });
}

// ---------- E: CELL SCORES ----------
(function() {
  var g = svg.append("g");
  var x = d3.scalePoint().domain(cellTypes).range([312, 650]).padding(0.6);
  var y = d3.scaleLinear().domain([-0.03, 0.633]).range([368, 230]);
  cellTypes.forEach(function(c, i) {
    drawBox(g, x(c) - 7.5, 13, cellHighBox[i], y, lineHigh, cellHighOut[i]);
    drawBox(g, x(c) + 7.5, 13, cellLowBox[i], y, lineLow, cellLowOut[i]);
    txt(x(c), 236, cellSig[i], 9, {anchor: "middle", fill: "#333"});
    g.append("line").attr("x1", x(c)).attr("x2", x(c)).attr("y1", 368).attr("y2", 371).attr("stroke", "#000").attr("stroke-width", 0.6);
    svg.append("text").attr("transform", "translate(" + (x(c) + 2.5) + ",374) rotate(-45)")
      .attr("text-anchor", "end").attr("font-size", 8).attr("fill", "#222").text(c);
  });
  g.append("path").attr("d", "M312,230V368H650").attr("fill", "none").attr("stroke", "#000").attr("stroke-width", 0.8);
  [0, 0.2, 0.4, 0.6].forEach(function(v) {
    g.append("line").attr("x1", 309).attr("x2", 312).attr("y1", y(v)).attr("y2", y(v)).attr("stroke", "#000").attr("stroke-width", 0.6);
    txt(307.5, y(v) + 3, d3.format(".1f")(v), 8, {anchor: "end", fill: "#333"});
  });
  svg.append("text").attr("transform", "translate(295,300) rotate(-90)").attr("text-anchor", "middle").attr("font-size", 9).text("Score");
  boxLegend(g, 316.5, 247);
  panelLetter(278, 229, "E");
})();

// ---------- F: HEATMAP ----------
(function() {
  var g = svg.append("g");
  var blocks = [heatIgG, heatHCK, heatMHCII, heatLCK, heatMHCI, heatSTAT1, heatInterferon];
  var nCols = riskScores.length;
  var xL = d3.scaleBand().domain(d3.range(lowCount)).range([20, 191]);
  var xR = d3.scaleBand().domain(d3.range(lowCount, nCols)).range([193, 269]);
  function colX(c) { return c < lowCount ? xL(c) : xR(c); }
  function colW(c) { return c < lowCount ? xL.bandwidth() : xR.bandwidth(); }

  // column annotations
  var tracks = ["RiskScore", "Risk", "T.Stage", "N.Stage", "M.Stage", "Stage"];
  var ty = d3.scaleBand().domain(tracks).range([460, 500]).paddingInner(0.08);
  function code(str, keys, cols) { str = str.replace(/ /g, ""); return function(c) { return cols[keys.indexOf(str[c])] || "#fff"; }; }
  var trackColor = {
    "RiskScore": function(c) { return riskColor(riskScores[c]); },
    "Risk": function(c) { return c < lowCount ? "#2A6FB1" : "#B83B2E"; },
    "T.Stage": code(tStage, tKeys, tColors),
    "N.Stage": code(nStage, nKeys, nColors),
    "M.Stage": code(mStage, mKeys, mColors),
    "Stage": code(stageCodes, sKeys, sColors)
  };
  tracks.forEach(function(t) {
    g.selectAll(null).data(d3.range(nCols)).enter().append("rect")
      .attr("x", colX).attr("width", function(c) { return colW(c) + 0.4; })
      .attr("y", ty(t)).attr("height", ty.bandwidth())
      .attr("fill", trackColor[t]).attr("shape-rendering", "crispEdges");
    txt(271, ty(t) + ty.bandwidth() / 2 + 2.6, t, 7.5, {fill: "#222"});
  });

  // body
  var top = 501, rowH = 4.4, gap = 1.8;
  blocks.forEach(function(rows, bi) {
    var y = d3.scaleBand().domain(d3.range(rows.length)).range([top, top + rows.length * rowH]);
    var cells = [];
    rows.forEach(function(r, ri) {
      var s = r.replace(/ /g, "");
      for (var c = 0; c < Math.min(s.length, nCols); c++) cells.push({r: ri, c: c, v: (+s[c] - 2) / 2});
    });
    g.selectAll(null).data(cells).enter().append("rect")
      .attr("x", function(d) { return colX(d.c); }).attr("width", function(d) { return colW(d.c) + 0.3; })
      .attr("y", function(d) { return y(d.r); }).attr("height", y.bandwidth() + 0.3)
      .attr("fill", function(d) { return heatColor(d.v); }).attr("shape-rendering", "crispEdges");
    g.append("rect").attr("x", 13).attr("width", 5).attr("y", top).attr("height", rows.length * rowH)
      .attr("fill", typeColors[typeNames.indexOf(heatTypes[bi])]);
    top += rows.length * rowH + gap;
  });

  // heat colour bar
  var hg = defs.append("linearGradient").attr("id", "heatGrad").attr("x1", 0).attr("y1", 0).attr("x2", 0).attr("y2", 1);
  [1, 0.5, 0, -0.5, -1].forEach(function(v, i) { hg.append("stop").attr("offset", i / 4).attr("stop-color", heatColor(v)); });
  g.append("rect").attr("x", 275).attr("y", 501).attr("width", 6.5).attr("height", 79).attr("fill", "url(#heatGrad)");
  var cb = d3.scaleLinear().domain([1, -1]).range([504, 578]);
  [1, 0.5, 0, -0.5, -1].forEach(function(v) {
    txt(283, cb(v) + 3, String(v).replace("-", "\u2212"), 8, {fill: "#222"});
  });

  function keys(x, y, title, names, cols, step, labels) {
    txt(x, y, title, 8, {fill: "#222"});
    names.forEach(function(n, i) {
      g.append("rect").attr("x", x).attr("y", y + 1.5 + i * step).attr("width", 7.5).attr("height", step)
        .attr("fill", cols[i]);
      var lab = labels ? labels[i] : n;
      if (lab) txt(x + 10, y + 1.5 + i * step + step - 1.2, lab, 8, {fill: "#222"});
    });
  }
  keys(275, 593.5, "M.Stage", mNames, mColors, 7.7);
  keys(275, 631, "Stage", sNames, sColors, 7.8);
  keys(275, 678.5, "N.Stage", nNames, nColors, 7.9);
  keys(307, 501.5, "RiskScore", ["7", "", "", "4"], ["#BC3C2E", "#EABAB5", "#B5D0E6", "#2A6FB1"], 7.8, ["7", "", "", "4"]);
  keys(307, 545, "RiskType", groups, ["#B83B2E", "#2A6FB1"], 8);
  keys(307, 573.5, "T.Stage", tNames, tColors, 7.8);
  keys(307, 622.5, "Type", typeNames, typeColors, 7.6);

  panelLetter(13, 451, "F");
})();

// ---------- G: CORRELATION ----------
(function() {
  var g = svg.append("g");
  var x = d3.scaleBand().domain(corrNames).range([351, 614]);
  var y = d3.scaleBand().domain(corrNames).range([459, 723]);
  corrNames.forEach(function(rn, i) {
    corrNames.forEach(function(cn, j) {
      if (j < i) {
        g.append("rect").attr("x", x(cn)).attr("y", y(rn)).attr("width", x.bandwidth() + 0.3).attr("height", y.bandwidth() + 0.3)
          .attr("fill", corrColor(corr[i][j])).attr("shape-rendering", "crispEdges");
      }
    });
  });
  corrNames.forEach(function(rn, i) {
    corrNames.forEach(function(cn, j) {
      var v = corr[i][j];
      var cx = x(cn) + x.bandwidth() / 2, cy = y(rn) + y.bandwidth() / 2;
      if (j > i) {
        g.append("rect").attr("x", x(cn)).attr("y", y(rn)).attr("width", x.bandwidth()).attr("height", y.bandwidth())
          .attr("fill", "#fff").attr("stroke", "#D5DBE4").attr("stroke-width", 0.7);
        txt(cx, cy + 3, String(v).replace("-", "\u2212"), 8.5, {anchor: "middle", fill: corrColor(v)});
      } else if (j === i) {
        g.append("rect").attr("x", x(cn)).attr("y", y(rn)).attr("width", x.bandwidth()).attr("height", y.bandwidth())
          .attr("fill", "#fff").attr("stroke", "#95A0B5").attr("stroke-width", 0.8);
        txt(cx, cy + 3, cn, 9, {anchor: "middle", fill: "#E5332A"});
      }
    });
  });
  var cg = defs.append("linearGradient").attr("id", "corrGrad").attr("x1", 0).attr("y1", 0).attr("x2", 0).attr("y2", 1);
  d3.range(21).forEach(function(k) { cg.append("stop").attr("offset", k / 20).attr("stop-color", corrColor(1 - k / 10)); });
  g.append("rect").attr("x", 618).attr("y", 459).attr("width", 10).attr("height", 264).attr("fill", "url(#corrGrad)");
  var cb = d3.scaleLinear().domain([1, -1]).range([459, 722]);
  d3.range(1, -1.01, -0.2).forEach(function(v) {
    var r = Math.round(v * 10) / 10;
    txt(634, cb(r) + 3, String(r).replace("-", "\u2212"), 8.5, {fill: "#222"});
  });
  panelLetter(329, 451, "G");
})();

// ---------- H: IMMUNE FUNCTION SCORES ----------
(function() {
  var g = svg.append("g");
  var x = d3.scalePoint().domain(immuneSets).range([30, 302]).padding(0.6);
  var y = d3.scaleLinear().domain([-0.024, 1.082]).range([979, 750]);
  immuneSets.forEach(function(s, i) {
    drawBox(g, x(s) - 8, 14, setHighBox[i], y, lineHigh, setHighOut[i]);
    drawBox(g, x(s) + 8, 14, setLowBox[i], y, lineLow, setLowOut[i]);
    txt(x(s), 763, setSig[i], 8.5, {anchor: "middle", fill: "#333"});
    g.append("line").attr("x1", x(s)).attr("x2", x(s)).attr("y1", 979).attr("y2", 982).attr("stroke", "#000").attr("stroke-width", 0.6);
    txt(x(s), 990, s, 8.5, {anchor: "middle", fill: "#222"});
  });
  g.append("path").attr("d", "M30,750V979H302").attr("fill", "none").attr("stroke", "#000").attr("stroke-width", 0.8);
  [0, 0.25, 0.5, 0.75, 1].forEach(function(v) {
    g.append("line").attr("x1", 27).attr("x2", 30).attr("y1", y(v)).attr("y2", y(v)).attr("stroke", "#000").attr("stroke-width", 0.6);
    txt(25.5, y(v) + 3, d3.format(".2f")(v), 8, {anchor: "end", fill: "#333"});
  });
  svg.append("text").attr("transform", "translate(8,877) rotate(-90)").attr("text-anchor", "middle").attr("font-size", 9).text("Score");
  boxLegend(g, 35.5, 954);
  panelLetter(13, 744, "H");
})();
</script>
</body>
</html>
